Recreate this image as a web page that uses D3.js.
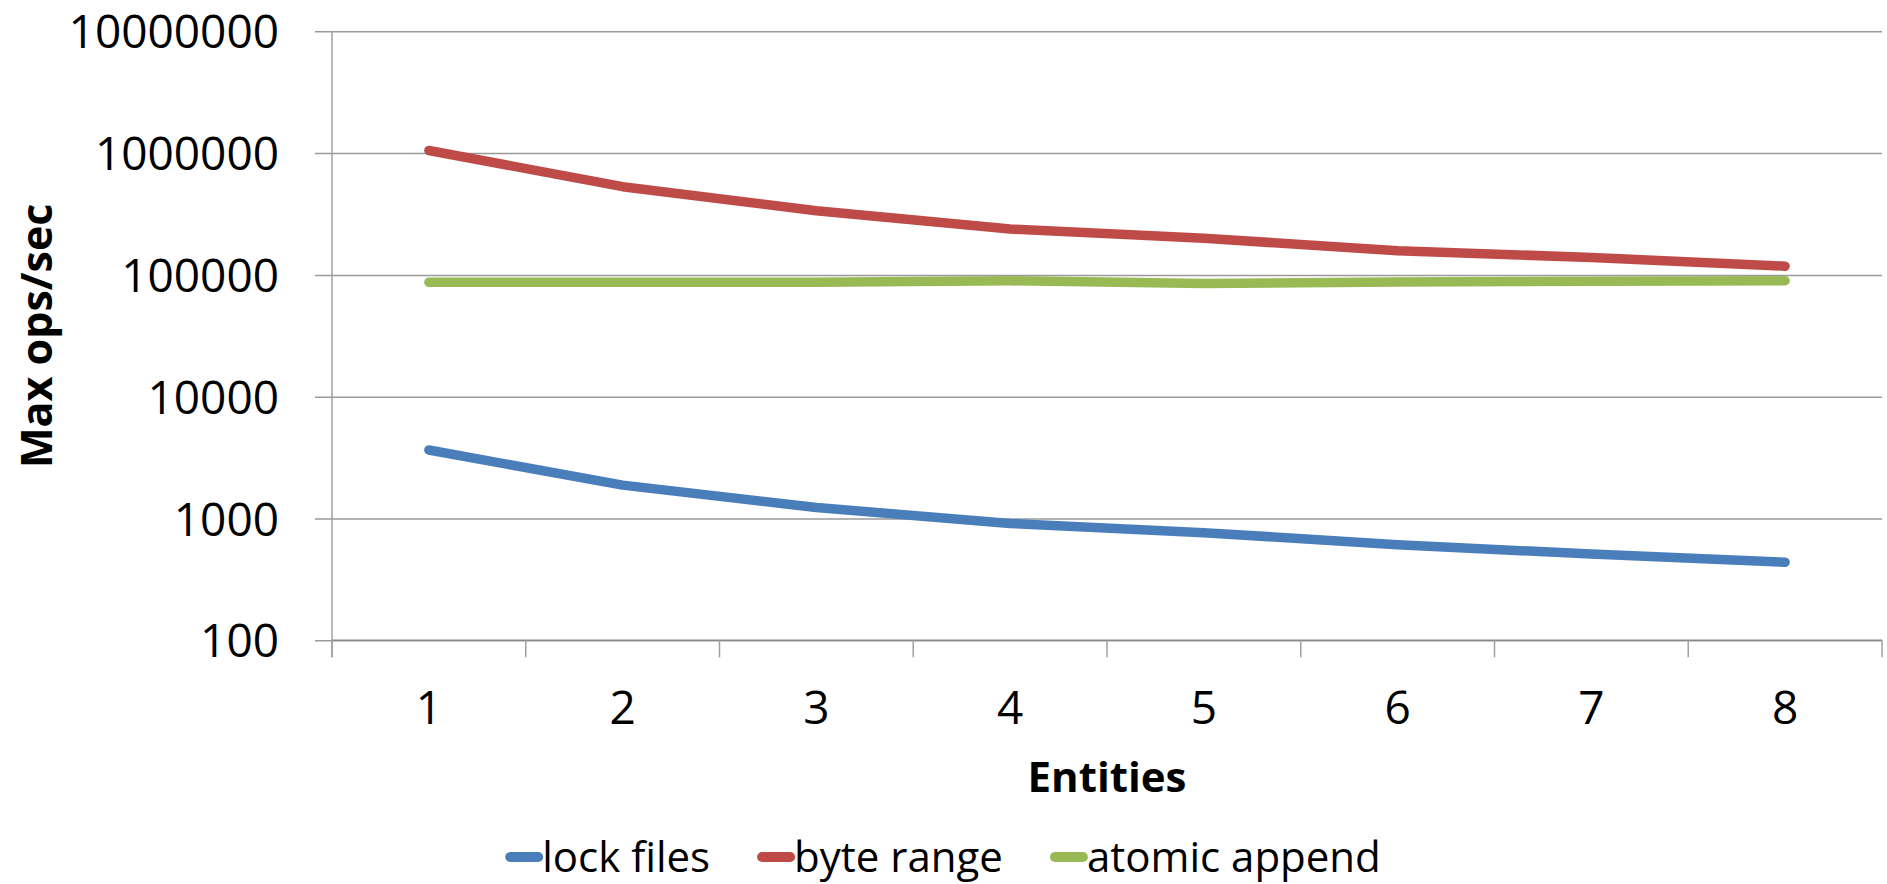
<!DOCTYPE html>
<html>
<head>
<meta charset="utf-8">
<script src="https://cdn.jsdelivr.net/npm/d3@7"></script>
<style>
  html, body { margin: 0; padding: 0; background: #fff; }
  svg text { font-family: "Open Sans", "Noto Sans", sans-serif; fill: #000; }
</style>
</head>
<body>
<svg id="chart" width="1887" height="884"></svg>
<script>
const categories = ["1", "2", "3", "4", "5", "6", "7", "8"];
const seriesNames = ["lock files", "byte range", "atomic append"];
const lockFiles = [3650, 1880, 1230, 910, 765, 610, 510, 437];
const byteRange = [1050000, 530000, 336000, 238000, 200000, 158000, 139000, 118000];
const atomicAppend = [87000, 87000, 87000, 89500, 85000, 87500, 88500, 89500];
const yTicks = [100, 1000, 10000, 100000, 1000000, 10000000];
const colors = ["#4A7EBB", "#BE4B48", "#98B954"];
const xTitle = "Entities";
const yTitle = "Max ops/sec";

const seriesValues = [lockFiles, byteRange, atomicAppend];

const W = 1887, H = 884;
const margin = { left: 332, right: 5, top: 31.3, bottom: 884 - 640.3 };
const svg = d3.select("#chart");

const x = d3.scaleBand().domain(categories).range([margin.left, W - margin.right]).padding(0);
const y = d3.scaleLog().domain([100, 10000000]).range([H - margin.bottom, margin.top]);

// gridlines (horizontal, with short tick to left of axis)
const yAxis = d3.axisLeft(y).tickValues(yTicks).tickFormat(d3.format("d"))
  .tickSizeInner(-(W - margin.right - margin.left)).tickSizeOuter(0).tickPadding(0);
const gy = svg.append("g").attr("transform", `translate(${margin.left},0)`).call(yAxis);
gy.select(".domain").remove();
gy.selectAll(".tick line")
  .attr("x1", -17).attr("x2", W - margin.right - margin.left)
  .attr("stroke", "#9a9a9a").attr("stroke-width", 1.5);
gy.selectAll(".tick text")
  .attr("x", -53).attr("dy", "0.36em")
  .attr("font-size", 46).attr("text-anchor", "end")
  .style("font-family", '"Open Sans", sans-serif').attr("fill", "#000");

// vertical axis line
svg.append("line")
  .attr("x1", margin.left).attr("x2", margin.left)
  .attr("y1", margin.top).attr("y2", H - margin.bottom + 17)
  .attr("stroke", "#a0a0a0").attr("stroke-width", 1.5);

// x axis with tick marks at category boundaries
const xAxis = d3.axisBottom(x).tickSize(0).tickPadding(0);
const gx = svg.append("g").attr("transform", `translate(0,${H - margin.bottom})`).call(xAxis);
gx.select(".domain").attr("stroke", "#888").attr("stroke-width", 1.5)
  .attr("d", `M${margin.left},0H${W - margin.right}`);
gx.selectAll(".tick text")
  .attr("y", 84).attr("dy", 0)
  .attr("font-size", 46)
  .style("font-family", '"Open Sans", sans-serif').attr("fill", "#000");
const boundaries = categories.map(c => x(c)).concat([x(categories[categories.length - 1]) + x.bandwidth()]);
gx.selectAll(".bound").data(boundaries).enter().append("line")
  .attr("class", "bound")
  .attr("x1", d => d).attr("x2", d => d)
  .attr("y1", 0).attr("y2", 17)
  .attr("stroke", "#a0a0a0").attr("stroke-width", 1.5);

// lines
const line = d3.line()
  .x((d, i) => x(categories[i]) + x.bandwidth() / 2)
  .y(d => y(d));
svg.selectAll(".series").data(seriesValues).enter().append("path")
  .attr("class", "series")
  .attr("d", d => line(d))
  .attr("fill", "none")
  .attr("stroke", (d, i) => colors[i])
  .attr("stroke-width", 9.5)
  .attr("stroke-linecap", "round")
  .attr("stroke-linejoin", "round");

// axis titles
svg.append("text")
  .attr("x", (margin.left + W - margin.right) / 2)
  .attr("y", 792)
  .attr("text-anchor", "middle")
  .attr("font-size", 42).attr("font-weight", "bold")
  .text(xTitle);

svg.append("text")
  .attr("transform", `translate(52,${(margin.top + H - margin.bottom) / 2}) rotate(-90)`)
  .attr("text-anchor", "middle")
  .attr("font-size", 43).attr("font-weight", "bold")
  .text(yTitle);

// legend
const legend = svg.append("g");
let cursor = 0;
seriesNames.forEach((name, i) => {
  const g = legend.append("g").attr("transform", `translate(${cursor},0)`);
  g.append("line")
    .attr("x1", 4).attr("x2", 32)
    .attr("y1", 857).attr("y2", 857)
    .attr("stroke", colors[i]).attr("stroke-width", 10).attr("stroke-linecap", "round");
  const t = g.append("text")
    .attr("x", 36).attr("y", 872)
    .attr("font-size", 42)
    .text(name);
  const w = t.node().getComputedTextLength();
  cursor += 36 + w + 48;
});
const total = cursor - 48;
legend.attr("transform", `translate(${W / 2 - total / 2},0)`);
</script>
</body>
</html>
